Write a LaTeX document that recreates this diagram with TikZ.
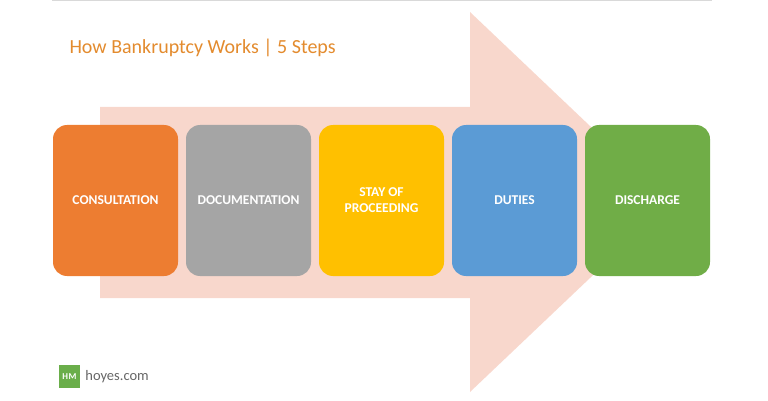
\documentclass[tikz,border=0pt]{standalone}
\usepackage{fontspec}
\setmainfont{Carlito}
\definecolor{arrowpink}{HTML}{F8D7CC}
\definecolor{titleorange}{HTML}{E38B2E}
\definecolor{hmgreen}{HTML}{6AAE4A}
\tikzset{
  stage/.style={rounded corners=14pt,minimum width=125pt,minimum height=151pt,
    text=white,font=\fontsize{13.5}{16}\selectfont\bfseries,align=center,inner sep=0pt}
}
\begin{document}
\begin{tikzpicture}[x=1pt,y=-1pt]
\useasboundingbox (0,0) rectangle (768,401);
\draw[gray!30,line width=1pt] (52,1) -- (712,1);
% big background arrow
\fill[arrowpink] (100,107) -- (470,107) -- (470,12) -- (670,202) -- (470,392) -- (470,298) -- (100,298) -- cycle;
\node[anchor=west,text=titleorange,font=\fontsize{20}{22}\selectfont] (title) at (66,48) {How Bankruptcy Works | 5 Steps};
% stages
\node[stage,fill={rgb,255:red,237;green,125;blue,49}] (consult) at (115.5,200.5) {CONSULTATION};
\node[stage,fill={rgb,255:red,165;green,165;blue,165}] (docs) at (248.5,200.5) {DOCUMENTATION};
\node[stage,fill={rgb,255:red,255;green,192;blue,0}] (stay) at (381.5,200.5) {STAY OF\\PROCEEDING};
\node[stage,fill={rgb,255:red,91;green,155;blue,213}] (duties) at (514.5,200.5) {DUTIES};
\node[stage,fill={rgb,255:red,112;green,173;blue,71}] (discharge) at (647.5,200.5) {DISCHARGE};
% logo
\node[fill=hmgreen,minimum width=21pt,minimum height=23pt,inner sep=0pt,text=white,font=\fontsize{9}{9}\selectfont\bfseries] (logo) at (69.5,376.5) {H\hspace{0.5pt}M};
\node[anchor=west,text=gray!80!black,font=\fontsize{14.5}{16}\selectfont,inner sep=0pt] (site) at ([xshift=5pt]logo.east) {hoyes.com};
\end{tikzpicture}
\end{document}
